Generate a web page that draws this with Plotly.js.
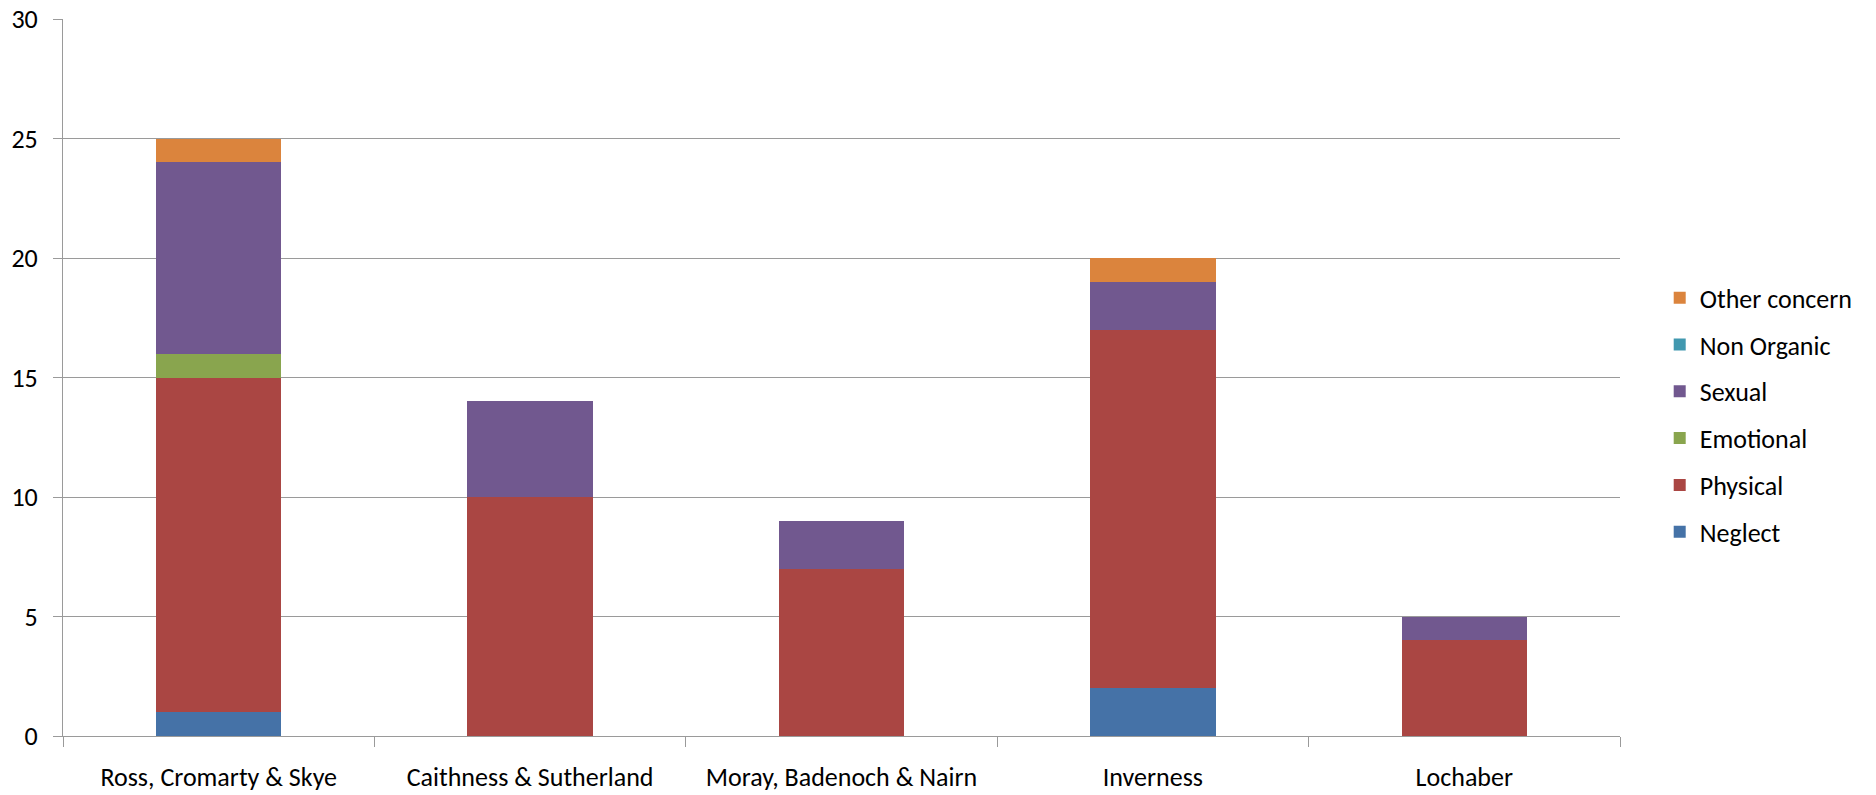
<!DOCTYPE html>
<html>
<head>
<meta charset="utf-8">
<script src="https://cdn.plot.ly/plotly-3.0.1.min.js"></script>
<style>html,body{margin:0;padding:0;background:#fff}#chart{width:1876px;height:795px}</style>
</head>
<body>
<div id="chart"></div>
<script>
const categories = ["Ross, Cromarty & Skye", "Caithness & Sutherland", "Moray, Badenoch & Nairn", "Inverness", "Lochaber"];
const neglect     = [1, 0, 0, 2, 0];
const physical    = [14, 10, 7, 15, 4];
const emotional   = [1, 0, 0, 0, 0];
const sexual      = [8, 4, 2, 2, 1];
const nonOrganic  = [0, 0, 0, 0, 0];
const otherConcern= [1, 0, 0, 1, 0];
const seriesNames = ["Neglect", "Physical", "Emotional", "Sexual", "Non Organic", "Other concern"];
const yTicks = [0, 5, 10, 15, 20, 25, 30];

const seriesValues = [neglect, physical, emotional, sexual, nonOrganic, otherConcern];
const colors = ["#4572A7", "#AA4643", "#89A54E", "#71588F", "#4198AF", "#DB843D"];
const FONT = "Carlito, 'Open Sans', sans-serif";
const FS = 26;
const LINE = "#9a9a9a";

const traces = seriesNames.map((name, i) => ({
  type: "bar",
  name: name,
  x: categories,
  y: seriesValues[i],
  legendgroup: "g" + i,
  legendrank: 1000 - i,
  marker: {color: colors[i], line: {width: 0}},
  hoverinfo: "x+y+name"
}));

const layout = {
  width: 1876, height: 795,
  margin: {l: 63, r: 256, t: 19, b: 59, pad: 0},
  barmode: "stack",
  bargap: 0.597,
  paper_bgcolor: "#ffffff",
  plot_bgcolor: "#ffffff",
  font: {family: FONT, size: FS, color: "#000000"},
  showlegend: true,
  legend: {
    x: 1.0255, xanchor: "left",
    y: 0.448, yanchor: "middle",
    traceorder: "grouped",
    tracegroupgap: 10,
    font: {family: FONT, size: FS, color: "#000000"},
    bgcolor: "rgba(0,0,0,0)"
  },
  xaxis: {
    type: "category",
    showline: true, linecolor: LINE, linewidth: 1,
    ticks: "outside", tickson: "boundaries", ticklen: 10, tickcolor: LINE, tickwidth: 1,
    ticklabelstandoff: 18,
    showgrid: false, zeroline: false,
    tickfont: {family: FONT, size: FS, color: "#000000"}
  },
  yaxis: {
    range: [0, 30],
    tickvals: yTicks,
    ticktext: yTicks.map(String),
    showline: true, linecolor: LINE, linewidth: 1,
    ticks: "outside", ticklen: 9, tickcolor: LINE, tickwidth: 1,
    ticklabelstandoff: 10,
    showgrid: true, gridcolor: LINE, gridwidth: 1,
    zeroline: false,
    tickfont: {family: FONT, size: FS, color: "#000000"}
  }
};

Plotly.newPlot("chart", traces, layout, {displayModeBar: false, staticPlot: true});
</script>
</body>
</html>
